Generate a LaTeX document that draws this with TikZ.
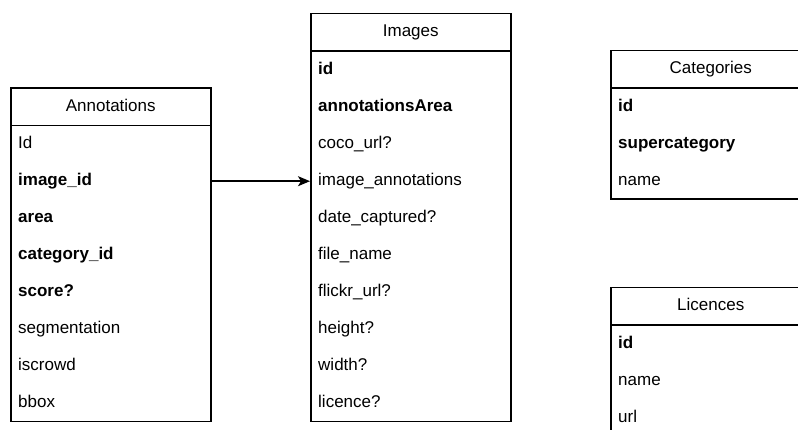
\documentclass[tikz,border=0pt]{standalone}
\usepackage{fontspec}
\setmainfont{Liberation Sans}
\usetikzlibrary{arrows.meta}
\begin{document}
\begin{tikzpicture}[x=1pt,y=-1pt,font=\fontsize{17}{20}\selectfont,
  frame/.style={draw,line width=1.5pt,minimum width=200pt,inner sep=0pt,anchor=north west},
  hdr/.style={draw,line width=1.5pt,minimum width=200pt,minimum height=37.5pt,text height=12.5pt,text depth=3.5pt,inner sep=0pt,anchor=north west},
  fld/.style={minimum width=200pt,minimum height=37pt,text width=184pt,text height=12.5pt,text depth=3.5pt,inner xsep=8pt,inner ysep=0pt,align=left,anchor=north west},
  link/.style={line width=1.5pt,-{Stealth[length=12pt,width=10pt,inset=3pt]}}]
\useasboundingbox (0,0) rectangle (798,430);
\clip (0,0) rectangle (798,430);
% Annotations
\node[frame,minimum height=333pt] (ann) at (10,87.5) {};
\node[hdr] (annh) at (10,87.5) {Annotations};
\foreach [count=\i] \t in {Id,\textbf{image\_id},\textbf{area},\textbf{category\_id},\textbf{score?},segmentation,iscrowd,bbox}
  \node[fld] (ann\i) at (10,{125.5+37*(\i-1)}) {\t};
% Images
\node[frame,minimum height=407.5pt] (img) at (310,13) {};
\node[hdr] (imgh) at (310,13) {Images};
\foreach [count=\i] \t in {\textbf{id},\textbf{annotationsArea},coco\_url?,image\_annotations,date\_captured?,file\_name,flickr\_url?,height?,width?,licence?}
  \node[fld] (img\i) at (310,{51.5+37*(\i-1)}) {\t};
% Categories
\node[frame,minimum height=148.5pt] (cat) at (610,50) {};
\node[hdr] (cath) at (610,50) {Categories};
\foreach [count=\i] \t in {\textbf{id},\textbf{supercategory},name}
  \node[fld] (cat\i) at (610,{88.5+37*(\i-1)}) {\t};
% Licences
\node[frame,minimum height=148.5pt] (lic) at (610,287) {};
\node[hdr] (lich) at (610,287) {Licences};
\foreach [count=\i] \t in {\textbf{id},name,url}
  \node[fld] (lic\i) at (610,{325.5+37*(\i-1)}) {\t};
% connector
\draw[link] (ann2.east) -- (img4.west);
\end{tikzpicture}
\end{document}
